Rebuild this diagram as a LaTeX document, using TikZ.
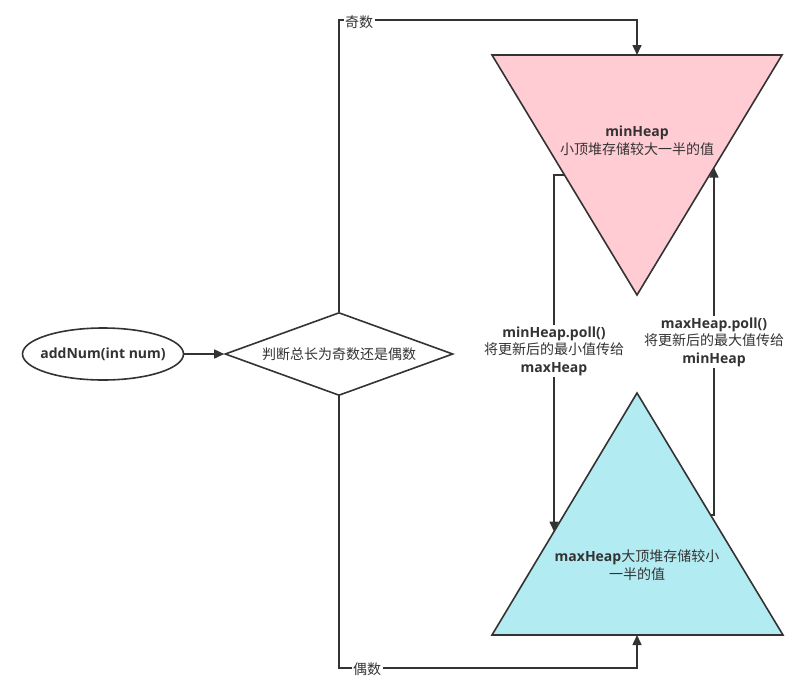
\documentclass[tikz,border=0pt]{standalone}
\usepackage{fontspec}
\setmainfont{Noto Sans CJK SC}
\newfontfamily\enfont{Open Sans}
\usetikzlibrary{shapes.geometric,arrows.meta}
\definecolor{linegray}{HTML}{333333}
\definecolor{minpink}{HTML}{FFCCD3}
\definecolor{maxcyan}{HTML}{B2EBF2}
\newcommand{\en}[1]{{\enfont\bfseries #1}}
\begin{document}
\begin{tikzpicture}[x=1pt,y=-1pt,line width=1.6pt,
    every node/.style={text=linegray,font=\fontsize{14}{17.5}\selectfont},
    conn/.style={draw=linegray,-{Triangle[length=10pt,width=9pt]}},
    lbl/.style={fill=white,inner sep=1.5pt,align=center}]
    \useasboundingbox (0,0) rectangle (802,686);
    % heaps
    \coordinate (minL) at (492,55); \coordinate (minR) at (782,55); \coordinate (minTip) at (637,295);
    \coordinate (maxL) at (492,635); \coordinate (maxR) at (783,635); \coordinate (maxTip) at (637,393);
    \draw[draw=linegray,fill=minpink] (minL) -- (minR) -- (minTip) -- cycle;
    \draw[draw=linegray,fill=maxcyan] (maxL) -- (maxR) -- (maxTip) -- cycle;
    \node[align=center] (minTxt) at (637,141) {\en{minHeap}\\小顶堆存储较大一半的值};
    \node[align=center] (maxTxt) at (637,565) {\en{maxHeap}大顶堆存储较小\\一半的值};
    \coordinate (minTop) at (637,55); \coordinate (maxBot) at (637,635);
    % flow
    \node[inner sep=0pt] (add) at (103,354) {\en{addNum(int num)}};
    \draw[draw=linegray] (add.center) ellipse [x radius=80.5pt,y radius=26pt];
    \coordinate (addR) at (183.5,354);
    \node[diamond,draw=linegray,aspect=2.75,minimum width=228pt,minimum height=83pt,inner sep=0pt] (judge) at (339,354) {判断总长为奇数还是偶数};
    \draw[conn] (addR) -- (judge);
    \draw[conn] (judge.north) -- (339,20) -| (minTop);
    \draw[conn] (judge.south) -- (339,668) -| (maxBot);
    \node[lbl] (odd) at (359,22) {奇数};
    \node[lbl] (even) at (367,669) {偶数};
    % exchange between heaps
    \coordinate (minOut) at (564.5,175); \coordinate (maxIn) at (554,531.5);
    \coordinate (maxOut) at (710.6,515); \coordinate (minIn) at (714,167.6);
    \draw[conn] (minOut) -- (554,175) -- (maxIn);
    \draw[conn] (maxOut) -- (714,515) -- (minIn);
    \node[lbl] (pollMin) at (554,351) {\en{minHeap.poll()}\\将更新后的最小值传给\\\en{maxHeap}};
    \node[lbl] (pollMax) at (714,342) {\en{maxHeap.poll()}\\将更新后的最大值传给\\\en{minHeap}};
\end{tikzpicture}
\end{document}
